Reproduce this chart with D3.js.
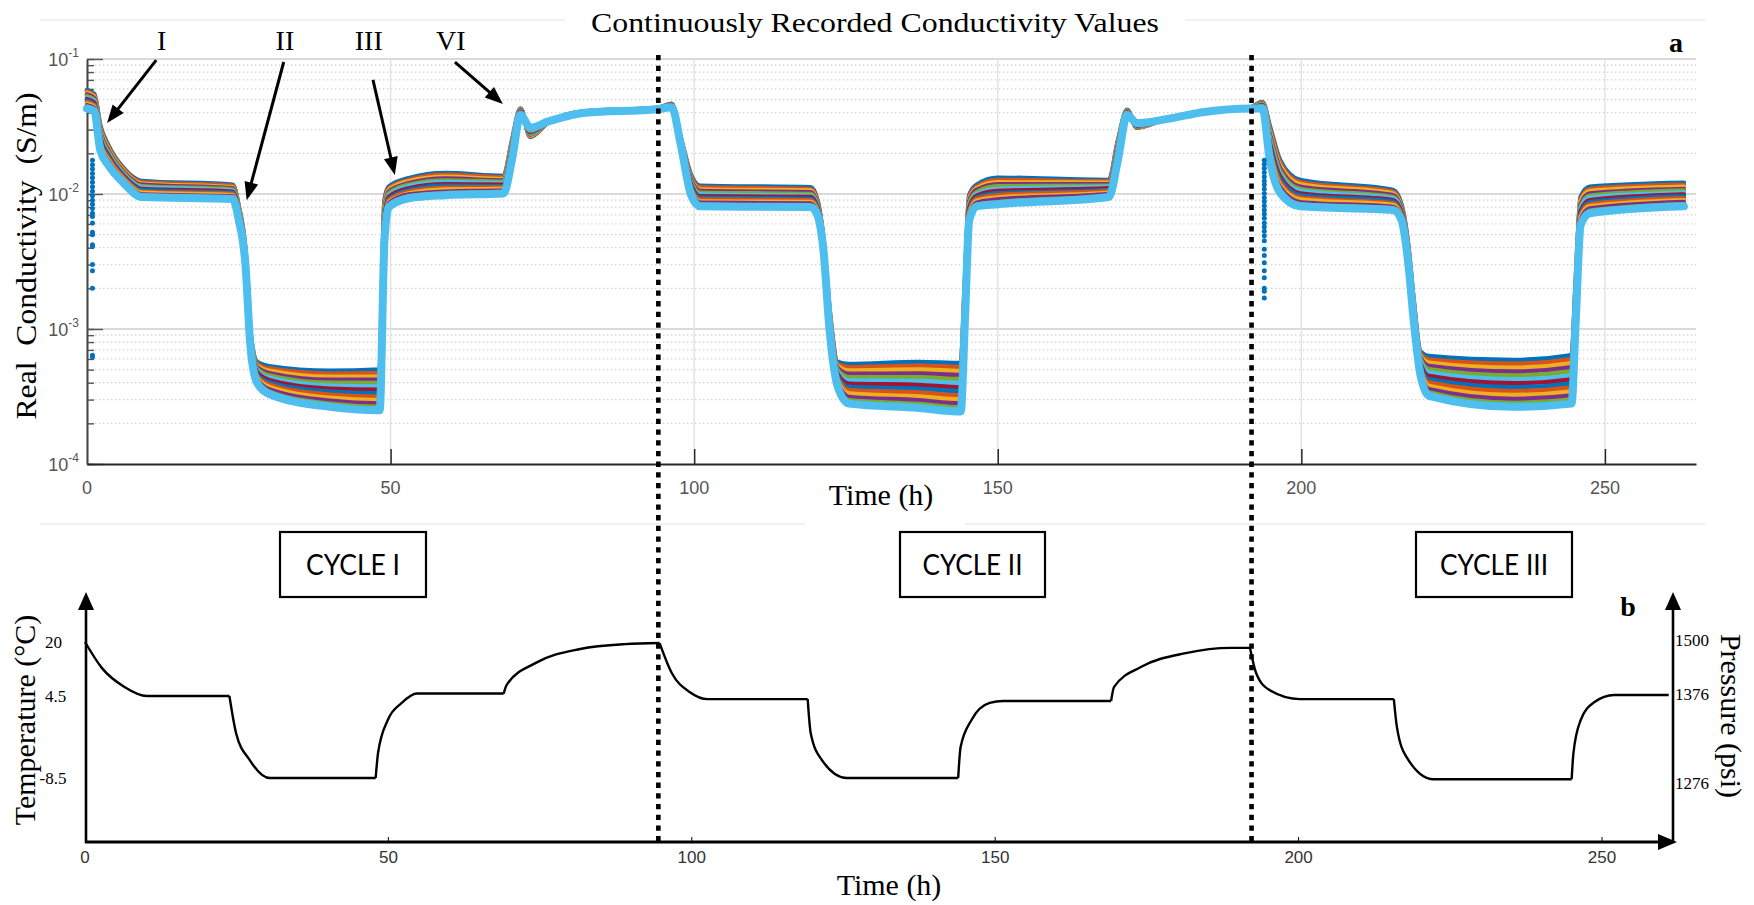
<!DOCTYPE html>
<html>
<head>
<meta charset="utf-8">
<script src="https://cdn.jsdelivr.net/npm/d3@7"></script>
<style>
html,body{margin:0;padding:0;background:#ffffff;}
svg{display:block;}
</style>
</head>
<body>
<svg id="chart" width="1754" height="905"></svg>
<script>
// ---------------- DATA ----------------
// Panel a: time axis (hours) shared by all conductivity channels
const timeH = [
  0, 1.2, 2.2, 3.5, 6, 9, 24, 25, 26.1, 26.9,
  28, 30, 40, 48.2, 49.0, 49.7, 53, 59, 68.6, 70,
  71.4, 73, 76, 82, 94, 96.3, 97.8, 99.5, 101, 119.2,
  120.3, 121.3, 122.3, 123.6, 125.5, 137, 143.9, 144.6, 145.3, 146.5,
  150, 168.3, 169.8, 171.3, 172.9, 178, 184, 191.5, 193.6, 194.8,
  196.5, 199.8, 215.1, 216.5, 217.6, 218.5, 219.6, 221, 235, 244.5,
  245.2, 246, 247.5, 263
];
// Real conductivity (S/m) of 13 recorded channels
const channel01 = [
  0.059,0.055,0.032,0.023,0.0156,0.0125,0.0117,0.0081,0.0038,9.8e-4,
  5.7e-4,5.3e-4,4.9e-4,5.0e-4,0.009,0.0113,0.0131,0.0143,0.0136,0.025,
  0.043,0.0265,0.034,0.041,0.0435,0.0465,0.026,0.0138,0.0115,0.0112,
  0.009,0.0046,0.0014,5.7e-4,5.5e-4,5.7e-4,5.6e-4,0.0023,0.0098,0.0117,
  0.0132,0.0127,0.025,0.042,0.031,0.0365,0.041,0.0435,0.048,0.032,
  0.0178,0.0127,0.0107,0.0083,0.0042,0.00164,6.8e-4,6.3e-4,5.9e-4,6.4e-4,
  0.0023,0.0095,0.0113,0.0121];
const channel02 = [
  0.0575,0.0537,0.0309,0.0224,0.0153,0.0122,0.0115,0.0079,0.00373,9.6e-4,
  5.53e-4,5.09e-4,4.66e-4,4.72e-4,0.0085,0.011,0.0127,0.0139,0.0133,0.0243,
  0.0426,0.0268,0.034,0.0409,0.0434,0.0463,0.0257,0.0134,0.0112,0.0109,
  0.0088,0.00453,0.00136,5.51e-4,5.2e-4,5.34e-4,5.23e-4,0.00217,0.0095,0.0113,
  0.0127,0.0124,0.0243,0.0417,0.0312,0.0365,0.041,0.0435,0.0476,0.0305,
  0.017,0.0122,0.0104,0.0081,0.0041,0.00159,6.58e-4,5.95e-4,5.52e-4,5.97e-4,
  0.00217,0.0091,0.0109,0.0117];
const channel03 = [
  0.056,0.0524,0.0298,0.0217,0.0149,0.0119,0.0112,0.0078,0.00365,9.4e-4,
  5.37e-4,4.9e-4,4.42e-4,4.45e-4,0.008,0.0107,0.0124,0.0134,0.0129,0.0237,
  0.0422,0.0272,0.0341,0.0408,0.0433,0.0461,0.0255,0.013,0.0108,0.0106,
  0.0086,0.00446,0.00132,5.33e-4,4.92e-4,5.0e-4,4.88e-4,0.00205,0.0091,0.011,
  0.0122,0.0121,0.0237,0.0414,0.0314,0.0364,0.0409,0.0434,0.0471,0.0291,
  0.0162,0.0118,0.0101,0.0079,0.004,0.00155,6.37e-4,5.63e-4,5.16e-4,5.58e-4,
  0.00205,0.0088,0.0105,0.0113];
const channel04 = [
  0.0545,0.0511,0.0288,0.0211,0.0146,0.0117,0.011,0.0076,0.00358,9.2e-4,
  5.22e-4,4.71e-4,4.2e-4,4.2e-4,0.0076,0.0104,0.012,0.013,0.0126,0.023,
  0.0418,0.0276,0.0341,0.0407,0.0432,0.0459,0.0252,0.0127,0.0105,0.0103,
  0.0085,0.00439,0.00128,5.15e-4,4.65e-4,4.68e-4,4.55e-4,0.00194,0.0088,0.0107,
  0.0118,0.0118,0.023,0.0411,0.0316,0.0364,0.0409,0.0434,0.0467,0.0277,
  0.0155,0.0113,0.0098,0.0078,0.0039,0.00151,6.17e-4,5.32e-4,4.83e-4,5.2e-4,
  0.00194,0.0084,0.0101,0.0109];
const channel05 = [
  0.0531,0.0499,0.0278,0.0205,0.0143,0.0114,0.0108,0.0075,0.00351,9.0e-4,
  5.07e-4,4.53e-4,3.99e-4,3.97e-4,0.0072,0.0101,0.0117,0.0126,0.0123,0.0224,
  0.0414,0.0279,0.0342,0.0407,0.0432,0.0456,0.025,0.0123,0.0102,0.01,
  0.0083,0.00432,0.00124,4.98e-4,4.39e-4,4.39e-4,4.25e-4,0.00184,0.0085,0.0103,
  0.0114,0.0115,0.0224,0.0408,0.0318,0.0363,0.0408,0.0433,0.0463,0.0264,
  0.0148,0.0109,0.0095,0.0076,0.0038,0.00147,5.97e-4,5.03e-4,4.52e-4,4.86e-4,
  0.00184,0.0081,0.0097,0.0106];
const channel06 = [
  0.0517,0.0487,0.0268,0.02,0.014,0.0112,0.0106,0.0073,0.00344,8.8e-4,
  4.92e-4,4.35e-4,3.8e-4,3.75e-4,0.0068,0.0098,0.0114,0.0122,0.012,0.0218,
  0.041,0.0283,0.0342,0.0406,0.0431,0.0454,0.0247,0.012,0.0099,0.0097,
  0.0081,0.00425,0.00121,4.81e-4,4.15e-4,4.11e-4,3.97e-4,0.00174,0.0082,0.01,
  0.0109,0.0113,0.0218,0.0405,0.032,0.0363,0.0408,0.0433,0.0458,0.0252,
  0.0141,0.0105,0.0093,0.0074,0.0037,0.00143,5.78e-4,4.75e-4,4.23e-4,4.53e-4,
  0.00174,0.0078,0.0094,0.0102];
const channel07 = [
  0.0504,0.0475,0.0259,0.0194,0.0137,0.0109,0.0104,0.0072,0.00338,8.6e-4,
  4.78e-4,4.18e-4,3.61e-4,3.54e-4,0.0064,0.0095,0.011,0.0118,0.0117,0.0212,
  0.0406,0.0287,0.0342,0.0405,0.043,0.0452,0.0245,0.0117,0.0096,0.0095,
  0.0079,0.00418,0.00117,4.65e-4,3.93e-4,3.85e-4,3.7e-4,0.00164,0.0079,0.0097,
  0.0105,0.011,0.0212,0.0402,0.0322,0.0362,0.0407,0.0432,0.0454,0.024,
  0.0135,0.0101,0.009,0.0073,0.0036,0.00139,5.59e-4,4.49e-4,3.96e-4,4.23e-4,
  0.00164,0.0075,0.009,0.0099];
const channel08 = [
  0.0491,0.0463,0.025,0.0189,0.0134,0.0107,0.0102,0.0071,0.00331,8.45e-4,
  4.64e-4,4.02e-4,3.43e-4,3.34e-4,0.0061,0.0092,0.0107,0.0115,0.0114,0.0206,
  0.0403,0.029,0.0343,0.0404,0.0429,0.045,0.0242,0.0113,0.0094,0.0092,
  0.0078,0.00411,0.00114,4.5e-4,3.71e-4,3.61e-4,3.46e-4,0.00155,0.0076,0.0094,
  0.0101,0.0107,0.0206,0.0399,0.0324,0.0362,0.0407,0.0432,0.045,0.0229,
  0.0129,0.0098,0.0088,0.0071,0.00352,0.00135,5.41e-4,4.24e-4,3.7e-4,3.95e-4,
  0.00155,0.0072,0.0087,0.0096];
const channel09 = [
  0.0478,0.0452,0.0242,0.0184,0.0132,0.0104,0.01,0.0069,0.00325,8.25e-4,
  4.5e-4,3.87e-4,3.26e-4,3.15e-4,0.0057,0.009,0.0104,0.0111,0.0112,0.0201,
  0.0399,0.0294,0.0343,0.0403,0.0428,0.0448,0.024,0.011,0.0091,0.009,
  0.0076,0.00405,0.0011,4.35e-4,3.51e-4,3.38e-4,3.22e-4,0.00147,0.0074,0.0092,
  0.0098,0.0105,0.0201,0.0396,0.0326,0.0362,0.0407,0.0432,0.0446,0.0218,
  0.0123,0.0094,0.0085,0.007,0.00343,0.00131,5.24e-4,4.01e-4,3.46e-4,3.68e-4,
  0.00147,0.0069,0.0084,0.0093];
const channel10 = [
  0.0466,0.0441,0.0233,0.0179,0.0129,0.0102,0.0098,0.0068,0.00318,8.1e-4,
  4.37e-4,3.72e-4,3.09e-4,2.97e-4,0.0054,0.0087,0.0101,0.0108,0.0109,0.0195,
  0.0396,0.0298,0.0344,0.0402,0.0427,0.0446,0.0237,0.0107,0.0088,0.0087,
  0.0075,0.00398,0.00107,4.2e-4,3.32e-4,3.16e-4,3.01e-4,0.00139,0.0071,0.0089,
  0.0094,0.0102,0.0195,0.0394,0.0329,0.0361,0.0406,0.0431,0.0442,0.0208,
  0.0117,0.0091,0.0083,0.0068,0.00335,0.00127,5.07e-4,3.79e-4,3.24e-4,3.44e-4,
  0.00139,0.0067,0.0081,0.009];
const channel11 = [
  0.0454,0.0431,0.0225,0.0174,0.0126,0.0099,0.0096,0.0067,0.00312,7.9e-4,
  4.25e-4,3.57e-4,2.94e-4,2.81e-4,0.0051,0.0085,0.0099,0.0104,0.0106,0.019,
  0.0392,0.0302,0.0344,0.0402,0.0427,0.0444,0.0235,0.0104,0.0086,0.0085,
  0.0073,0.00392,0.00104,4.06e-4,3.14e-4,2.96e-4,2.81e-4,0.00131,0.0069,0.0086,
  0.0091,0.01,0.019,0.0391,0.0331,0.0361,0.0406,0.0431,0.0438,0.0198,
  0.0112,0.0087,0.008,0.0067,0.00326,0.00124,4.91e-4,3.58e-4,3.03e-4,3.21e-4,
  0.00131,0.0064,0.0078,0.0087];
const channel12 = [
  0.0442,0.042,0.0218,0.0169,0.0124,0.0097,0.0094,0.0065,0.00306,7.75e-4,
  4.12e-4,3.44e-4,2.79e-4,2.65e-4,0.0049,0.0082,0.0096,0.0101,0.0104,0.0185,
  0.0389,0.0306,0.0345,0.0401,0.0426,0.0442,0.0232,0.0101,0.0083,0.0082,
  0.0072,0.00386,0.00101,3.93e-4,2.96e-4,2.78e-4,2.62e-4,0.00124,0.0066,0.0083,
  0.0087,0.0097,0.0185,0.0388,0.0333,0.036,0.0405,0.043,0.0434,0.0189,
  0.0107,0.0084,0.0078,0.0065,0.00318,0.0012,4.75e-4,3.39e-4,2.83e-4,3.0e-4,
  0.00124,0.0061,0.0075,0.0084];
const channel13 = [
  0.043,0.041,0.021,0.0164,0.0121,0.0095,0.0092,0.0064,0.003,7.6e-4,
  4.0e-4,3.3e-4,2.65e-4,2.5e-4,0.0046,0.008,0.0093,0.0098,0.0101,0.018,
  0.0385,0.031,0.0345,0.04,0.0425,0.044,0.023,0.0098,0.0081,0.008,
  0.007,0.0038,9.8e-4,3.8e-4,2.8e-4,2.6e-4,2.45e-4,0.00117,0.0064,0.0081,
  0.0084,0.0095,0.018,0.0385,0.0335,0.036,0.0405,0.043,0.043,0.018,
  0.0102,0.0081,0.0076,0.0064,0.0031,0.00117,4.6e-4,3.2e-4,2.65e-4,2.8e-4,
  0.00117,0.0059,0.0072,0.0081];

// scattered first-channel readings at the start of cycles I and III
const burstTimeH = [0.9, 193.9];
const burstCycleI = [0.0178,0.0165,0.0153,0.0142,0.0132,0.0122,0.0113,0.0105,0.0097,0.009,
  0.0084,0.0078,0.0072,0.0068,0.0061,0.0052,0.005,0.0042,0.0041,0.003,0.0027,0.002,0.00064,0.00062];
const burstCycleIII = [0.0178,0.0166,0.0155,0.0144,0.0134,0.0125,0.0117,0.0109,0.0101,0.0094,
  0.0088,0.0082,0.0076,0.0071,0.0066,0.0061,0.0057,0.0053,0.0049,0.0045,
  0.0039,0.0035,0.0031,0.0027,0.0024,0.002,0.0019,0.0017];

// Panel b: schematic temperature programme
const tempTimeH = [0, 2.8, 6.5, 10.2, 23.8, 24.9, 27.1, 30.4, 47.9, 48.3,
  49.9, 52.2, 54.7, 69.0, 69.5, 74.3, 81.6, 89, 94.7, 96.7,
  99.7, 102.6, 119.1, 119.6, 121.4, 125.5, 143.9, 144.3, 146.1, 149.1,
  151.3, 169.1, 169.6, 174.0, 181.4, 188.8, 192.0, 193.0, 195.2, 200.2,
  215.7, 216.2, 217.8, 222.2, 245.0, 245.3, 246.5, 248.7, 252.0, 261.0];
const tempC = [20, 12.5, 7.1, 4.5, 4.5, -1.4, -5.6, -8.5, -8.5, -4.5,
  0.7, 3.4, 5.2, 5.2, 7.7, 14.0, 18.0, 19.4, 19.7, 11.1,
  5.6, 4.0, 4.0, -1.4, -5.6, -8.5, -8.5, -3.6, 0.7, 3.4,
  3.7, 3.7, 7.1, 12.8, 16.8, 18.3, 18.3, 11.1, 6.2, 4.0,
  4.0, -0.4, -5.2, -8.7, -8.7, -4.5, 0.7, 3.5, 4.8, 4.8];
const tempStepStartsH = [0, 23.8, 47.9, 69.0, 94.7, 119.1, 143.9, 169.1, 192.0, 215.7, 245.0, 261.0];

// axes / labels
const timeTicks = [0, 50, 100, 150, 200, 250];
const conductivityDecades = [1e-4, 1e-3, 1e-2, 1e-1];
const tempTicks = [20, 4.5, -8.5];
const pressureTicks = [1500, 1376, 1276];
const cycleEndH = [94.1, 191.8];
const cycleNames = ["CYCLE I", "CYCLE II", "CYCLE III"];
const stageNames = ["I", "II", "III", "VI"];
const stageArrowFromH = [11.4, 32.4, 47.1, 60.6];
const stageArrowFromS = [0.098, 0.095, 0.070, 0.095];
const stageArrowToH = [3.3, 26.3, 50.7, 68.5];
const stageArrowToS = [0.0336, 0.0090, 0.0138, 0.0464];
const stageLabelH = [12.3, 32.6, 46.4, 59.9];

// ---------------- DRAW ----------------
const svg = d3.select('#chart');
const serif = "'Liberation Serif','Times New Roman',Times,serif";
const sans = "'Liberation Sans',Arial,Helvetica,sans-serif";
const narrow = "'Liberation Sans Narrow','Arial Narrow','Liberation Sans',sans-serif";
const boxFont = "Lato,'Open Sans',sans-serif";
const matlabColors = ['#0072BD','#D95319','#EDB120','#7E2F8E','#77AC30','#4DBEEE','#A2142F'];

const xA = d3.scaleLinear().domain([0, 265]).range([87, 1696]);
const yA = d3.scaleLog().domain([1e-4, 1e-1]).range([464, 59]);
const xB = d3.scaleLinear().domain([0, 265]).range([85, 1693]);
const yT = d3.scaleLinear().domain([-8.5, 4.5, 20]).range([778, 696, 642]);
const yP = d3.scaleLinear().domain([1276, 1376, 1500]).range([783, 694, 640]);

// faint frame remnants
[[40,565,20],[1185,1705,20],[40,805,524],[965,1705,524]].forEach(([a,b,yy]) => {
  svg.append('line').attr('x1',a).attr('x2',b).attr('y1',yy).attr('y2',yy)
    .attr('stroke','#f1f1f1').attr('stroke-width',2);
});

// ---- panel a grid
const grid = svg.append('g');
yA.ticks().forEach(v => {
  if (v <= 1e-4) return;
  const lg = Math.log10(v);
  const dec = Math.abs(lg - Math.round(lg)) < 1e-9;
  grid.append('line').attr('x1', xA(0)).attr('x2', xA(265))
    .attr('y1', yA(v)).attr('y2', yA(v))
    .attr('stroke', dec ? '#dadada' : '#d0d0d0')
    .attr('stroke-width', dec ? 1.8 : 1.3)
    .attr('stroke-dasharray', dec ? null : '1.4,2.6');
});
timeTicks.filter(t => t > 0).forEach(t => {
  grid.append('line').attr('x1', xA(t)).attr('x2', xA(t))
    .attr('y1', yA(1e-1)).attr('y2', yA(1e-4))
    .attr('stroke', '#e2e2e2').attr('stroke-width', 1.4);
});

// ---- panel a axes
const axMinor = svg.append('g').attr('transform', `translate(${xA(0)},0)`)
  .call(d3.axisRight(yA).tickSize(7).tickFormat('').tickSizeOuter(0));
const axMajor = svg.append('g').attr('transform', `translate(${xA(0)},0)`)
  .call(d3.axisRight(yA).tickValues(conductivityDecades).tickSize(16).tickFormat('').tickSizeOuter(0));
[axMinor, axMajor].forEach(g => {
  g.selectAll('path').attr('stroke', '#444').attr('stroke-width', 1.6);
  g.selectAll('line').attr('stroke', '#555').attr('stroke-width', 1.4);
});
const axBottom = svg.append('g').attr('transform', `translate(0,${yA(1e-4)})`)
  .call(d3.axisTop(xA).tickValues(timeTicks.filter(t => t > 0)).tickSize(15).tickFormat('').tickSizeOuter(0));
axBottom.selectAll('path').attr('stroke', '#262626').attr('stroke-width', 2);
axBottom.selectAll('line').attr('stroke', '#262626').attr('stroke-width', 1.5);

timeTicks.forEach(t => {
  svg.append('text').attr('x', xA(t)).attr('y', 494).attr('text-anchor', 'middle')
    .attr('font-family', sans).attr('font-size', 18).attr('fill', '#555').text(t);
});
conductivityDecades.forEach(v => {
  const tx = svg.append('text').attr('x', 79).attr('y', yA(v) + 7).attr('text-anchor', 'end')
    .attr('font-family', sans).attr('font-size', 18).attr('fill', '#555');
  tx.append('tspan').text('10');
  tx.append('tspan').attr('font-size', 12).attr('dy', -9).text(String(Math.round(Math.log10(v))));
});

// ---- panel a series
const channels = [channel01, channel02, channel03, channel04, channel05, channel06, channel07,
  channel08, channel09, channel10, channel11, channel12, channel13];
const lineA = d3.line().x((d, i) => xA(timeH[i])).y(d => yA(d)).curve(d3.curveMonotoneX);
channels.forEach((s, k) => {
  svg.append('path').attr('d', lineA(s)).attr('fill', 'none')
    .attr('stroke', matlabColors[k % 7])
    .attr('stroke-width', k === channels.length - 1 ? 8 : 4.6)
    .attr('stroke-linejoin', 'round').attr('stroke-linecap', 'round');
});
[burstCycleI, burstCycleIII].forEach((vals, j) => {
  svg.append('g').selectAll('circle').data(vals).join('circle')
    .attr('cx', xA(burstTimeH[j])).attr('cy', d => yA(d)).attr('r', 2.5)
    .attr('fill', matlabColors[0]);
});

// ---- stage annotations
function arrow(x1, y1, x2, y2) {
  const dx = x2 - x1, dy = y2 - y1, L = Math.hypot(dx, dy);
  const ux = dx / L, uy = dy / L, hl = 18, hw = 7;
  const bx = x2 - ux * hl, by = y2 - uy * hl;
  svg.append('line').attr('x1', x1).attr('y1', y1).attr('x2', bx + ux * 2).attr('y2', by + uy * 2)
    .attr('stroke', '#000').attr('stroke-width', 3);
  svg.append('polygon').attr('points',
    `${x2},${y2} ${bx - uy * hw},${by + ux * hw} ${bx + uy * hw},${by - ux * hw}`).attr('fill', '#000');
}
stageNames.forEach((nm, i) => {
  svg.append('text').attr('x', xA(stageLabelH[i])).attr('y', 50).attr('text-anchor', 'middle')
    .attr('font-family', serif).attr('font-size', 28).attr('fill', '#000').text(nm);
  arrow(xA(stageArrowFromH[i]), yA(stageArrowFromS[i]), xA(stageArrowToH[i]), yA(stageArrowToS[i]));
});

// titles panel a
svg.append('text').attr('x', 875).attr('y', 32).attr('text-anchor', 'middle')
  .attr('font-family', serif).attr('font-size', 28).attr('textLength', 568)
  .attr('lengthAdjust', 'spacingAndGlyphs').text('Continuously Recorded Conductivity Values');
svg.append('text').attr('x', 1676).attr('y', 52).attr('text-anchor', 'middle')
  .attr('font-family', serif).attr('font-size', 28).attr('font-weight', 'bold').text('a');
svg.append('text').attr('x', 881).attr('y', 505).attr('text-anchor', 'middle')
  .attr('font-family', serif).attr('font-size', 30).text('Time (h)');
svg.append('text').attr('transform', 'translate(36,256) rotate(-90)').attr('text-anchor', 'middle')
  .attr('font-family', serif).attr('font-size', 30).style('white-space', 'pre')
  .attr('textLength', 327).attr('lengthAdjust', 'spacingAndGlyphs')
  .text('Real  Conductivity  (S/m)');

// ---- panel b
const boxX = [[280, 426], [900, 1045], [1416, 1572]];
const boxTextW = [94, 100, 108];
cycleNames.forEach((nm, i) => {
  const [a, b] = boxX[i];
  svg.append('rect').attr('x', a).attr('y', 532).attr('width', b - a).attr('height', 65)
    .attr('fill', 'none').attr('stroke', '#000').attr('stroke-width', 2.2);
  svg.append('text').attr('x', (a + b) / 2).attr('y', 575).attr('text-anchor', 'middle')
    .attr('font-family', boxFont).attr('font-size', 29).attr('textLength', boxTextW[i])
    .attr('lengthAdjust', 'spacingAndGlyphs').text(nm);
});

const lineB = d3.line().x(d => xB(d[0])).y(d => yT(d[1])).curve(d3.curveMonotoneX);
for (let k = 0; k < tempStepStartsH.length - 1; k++) {
  const pts = tempTimeH.map((t, i) => [t, tempC[i]])
    .filter(p => p[0] >= tempStepStartsH[k] && p[0] <= tempStepStartsH[k + 1]);
  svg.append('path').attr('d', lineB(pts)).attr('fill', 'none')
    .attr('stroke', '#000').attr('stroke-width', 2.4).attr('stroke-linejoin', 'round');
}

// axes panel b
const yBase = 842;
function vArrowAxis(xx) {
  svg.append('line').attr('x1', xx).attr('x2', xx).attr('y1', yBase + 1).attr('y2', 606)
    .attr('stroke', '#000').attr('stroke-width', 2.6);
  svg.append('polygon').attr('points', `${xx},592 ${xx - 8},610 ${xx + 8},610`).attr('fill', '#000');
}
vArrowAxis(xB(0) + 1);
vArrowAxis(1673);
svg.append('line').attr('x1', xB(0)).attr('x2', 1660).attr('y1', yBase).attr('y2', yBase)
  .attr('stroke', '#000').attr('stroke-width', 2.8);
svg.append('polygon').attr('points', `1677,${yBase} 1658,${yBase - 8} 1658,${yBase + 8}`).attr('fill', '#000');
timeTicks.forEach(t => {
  if (t > 0) svg.append('line').attr('x1', xB(t)).attr('x2', xB(t)).attr('y1', yBase).attr('y2', yBase - 5)
    .attr('stroke', '#000').attr('stroke-width', 1);
  svg.append('text').attr('x', xB(t)).attr('y', 863).attr('text-anchor', 'middle')
    .attr('font-family', narrow).attr('font-size', 17).attr('fill', '#333').text(t);
});
tempTicks.forEach(v => {
  svg.append('text').attr('x', v < 0 ? 39.5 : 45).attr('y', yT(v)).attr('dy', '0.35em')
    .attr('font-family', serif).attr('font-size', 17).attr('fill', '#000').text(v);
});
pressureTicks.forEach(v => {
  svg.append('text').attr('x', 1675).attr('y', yP(v)).attr('dy', '0.35em')
    .attr('font-family', serif).attr('font-size', 17).attr('fill', '#000').text(v);
});
svg.append('text').attr('transform', 'translate(35,720) rotate(-90)').attr('text-anchor', 'middle')
  .attr('font-family', serif).attr('font-size', 30).text('Temperature (°C)');
svg.append('text').attr('transform', 'translate(1721,716) rotate(90)').attr('text-anchor', 'middle')
  .attr('font-family', serif).attr('font-size', 30).text('Pressure (psi)');
svg.append('text').attr('x', 1628).attr('y', 616).attr('text-anchor', 'middle')
  .attr('font-family', serif).attr('font-size', 28).attr('font-weight', 'bold').text('b');
svg.append('text').attr('x', 889).attr('y', 895).attr('text-anchor', 'middle')
  .attr('font-family', serif).attr('font-size', 30).text('Time (h)');

// cycle separators (drawn on top)
cycleEndH.forEach(t => {
  svg.append('line').attr('x1', xA(t)).attr('x2', xA(t)).attr('y1', 55).attr('y2', 842)
    .attr('stroke', '#000').attr('stroke-width', 4.6).attr('stroke-dasharray', '5.3,5.4');
});
</script>
</body>
</html>
